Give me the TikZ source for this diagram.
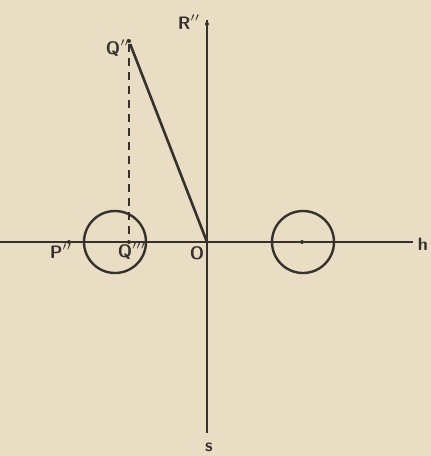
\documentclass[tikz,border=0pt]{standalone}
\usepackage{tikz}
\usetikzlibrary{calc,positioning}
\definecolor{paper}{HTML}{E9DDC3}
\definecolor{ink}{HTML}{36312C}

\begin{document}
\begin{tikzpicture}[x=0.5pt,y=-0.5pt, line width=1.2pt, draw=ink,
  lbl/.style={text=ink, font=\small\bfseries\sffamily, inner sep=0pt},
  ring/.style={draw=ink, circle, minimum size=31pt, inner sep=0pt, line width=1.2pt},
  dot/.style={fill=ink, circle, inner sep=0pt, minimum size=2pt}]
\fill[paper] (0,0) rectangle (431,456);
\useasboundingbox (0,0) rectangle (431,456);
% axes
\coordinate (o) at (207,242);
\coordinate (hl) at (0,242);
\coordinate (hr) at (413,242);
\coordinate (rt) at (207,20);
\coordinate (sb) at (207,433);
\draw (hl) -- (hr);
\draw (rt) -- (sb);
% points
\node[dot](r) at (207,24){};
\node[dot](q) at (129,41){};
\node[dot](qq) at (129,242){};
\node[dot](p) at (69,242){};
\node[dot](c) at (302,242){};
% circles
\node[ring](lc) at (115,242){};
\node[ring](rc) at (303,242){};
% lines
\draw[line width=1.3pt] (q) -- (o);
\draw[dashed, line width=0.9pt, dash pattern=on 4pt off 3pt] (q) -- (qq);
% labels
\node[lbl](rl) at (189,22){R$''$};
\node[lbl](ql) at (118,48){Q$''$};
\node[lbl](pl) at (61,251){P$''$};
\node[lbl](qql) at (132,251){Q$'''$};
\node[lbl](ol) at (197,253){O};
\node[lbl](hn) at (423,244){h};
\node[lbl](sn) at (209,447){s};
\end{tikzpicture}
\end{document}
